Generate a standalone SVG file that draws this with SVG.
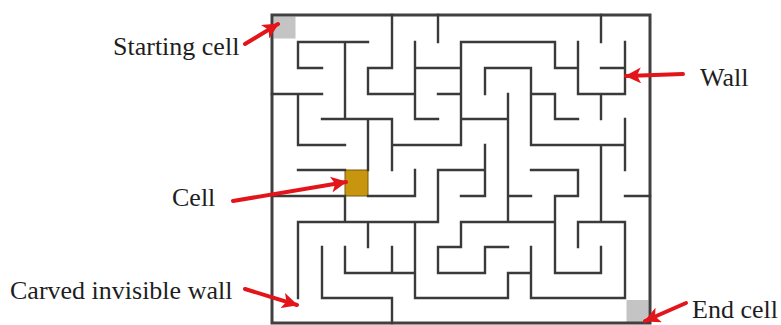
<svg xmlns="http://www.w3.org/2000/svg" width="781" height="325" viewBox="0 0 781 325">
  <style>
    .wall { fill: none; stroke: #3a3a3a; stroke-width: 2.4; stroke-linecap: square; }
    .border { fill: none; stroke: #404040; stroke-width: 3; }
    .label { font-family: "Liberation Serif", "Times New Roman", serif; font-size: 26px; fill: #1e1e1e; }
    .arrow { fill: none; stroke: #e3151b; stroke-width: 4; stroke-linecap: round; }
  </style>
  <defs>
    <marker id="head" markerUnits="userSpaceOnUse" markerWidth="18" markerHeight="16" refX="15" refY="8" orient="auto">
      <path d="M0,0 L16,8 L0,16 L4,8 Z" fill="#e3151b"/>
    </marker>
  </defs>
  <rect width="781" height="325" fill="#ffffff"/>

  <!-- special cells -->
  <g id="start-cell"><rect x="273.5" y="16.5" width="22" height="22" fill="#c4c4c4"/></g>
  <g id="end-cell"><rect x="626.5" y="300" width="22" height="22" fill="#c4c4c4"/></g>
  <g id="cell"><rect x="345" y="170" width="23" height="26" fill="#c8950f" stroke="#7a5a0c" stroke-width="1"/></g>

  <!-- maze walls -->
  <g id="maze">
    <rect class="border" x="272" y="15" width="378" height="308"/>
    <path class="wall" d="
      M298 42H368 M461 42H555
      M298 68H322 M368 68H392 M415 68H461 M485 68H531 M555 68H578 M601 68H625
      M272 94H322 M368 94H415 M438 94H461 M531 94H555 M578 94H625
      M322 119H392 M415 119H438 M461 119H508 M555 119H578
      M298 145H345 M392 145H461 M531 145H625
      M298 170H345 M438 170H485 M531 170H578
      M272 196H345 M368 196H415 M461 196H485 M508 196H531 M555 196H578 M625 196H650
      M298 222H438 M461 222H555 M578 222H625
      M438 247H461 M485 247H508
      M345 273H415 M438 273H485 M508 273H531 M555 273H601
      M322 298H392 M415 298H508 M531 298H625
      M298 42V68 M298 94V145 M298 222V298
      M322 247V298
      M345 42V119 M345 196V222 M345 247V273
      M368 68V94 M368 119V170 M368 222V247
      M392 15V68 M392 119V170 M392 247V273 M392 298V323
      M415 42V119 M415 170V196 M415 222V298
      M438 15V42 M438 170V222 M438 247V273
      M461 42V145 M461 222V247
      M485 68V94 M485 145V196 M485 247V273
      M508 94V222 M508 273V298
      M531 68V145 M531 247V298
      M555 42V68 M555 94V119 M555 196V273
      M578 42V94 M578 170V196 M578 222V247
      M601 15V42 M601 94V119 M601 145V222 M601 247V273
      M625 42V94 M625 119V170 M625 222V298"/>
  </g>

  <!-- labels -->
  <g id="label-start"><text class="label" x="113" y="55">Starting cell</text></g>
  <g id="label-wall"><text class="label" x="700" y="86">Wall</text></g>
  <g id="label-cell"><text class="label" x="172" y="206">Cell</text></g>
  <g id="label-carved"><text class="label" x="10" y="299">Carved invisible wall</text></g>
  <g id="label-end"><text class="label" x="692" y="318">End cell</text></g>

  <!-- pointer arrows -->
  <g id="connectors">
    <path class="arrow" d="M245 44 L278 24" marker-end="url(#head)"/>
    <path class="arrow" d="M683 74 L626 76" marker-end="url(#head)"/>
    <path class="arrow" d="M233 201 L346 182" marker-end="url(#head)"/>
    <path class="arrow" d="M245 289 L297 305" marker-end="url(#head)"/>
    <path class="arrow" d="M686 303 L645 321" marker-end="url(#head)"/>
  </g>
</svg>
